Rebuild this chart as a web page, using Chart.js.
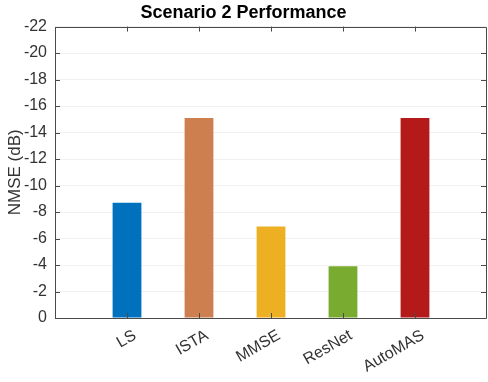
<!DOCTYPE html>
<html lang="en">
<head>
  <meta charset="UTF-8">
  <title>Scenario 2 Performance</title>
  <style>
    html, body { margin: 0; padding: 0; background: #ffffff; }
    .chartBox { width: 488px; height: 382px; }
  </style>
</head>
<body>
<div class="chartBox">
  <canvas id="myChart" width="488" height="382"></canvas>
</div>
<script src="https://cdn.jsdelivr.net/npm/chart.js"></script>
<script>
  // data
  const methods = ['LS', 'ISTA', 'MMSE', 'ResNet', 'AutoMAS'];
  const nmseValues = [-8.7, -15.1, -6.9, -3.9, -15.1];
  const barColors = ['#0072BD', '#CD7F4F', '#ECB022', '#78AB30', '#B41A1A'];
  const yTickValues = [-22, -20, -18, -16, -14, -12, -10, -8, -6, -4, -2, 0];

  // matlab leaves an empty slot on each side of the bars
  const labels = [''].concat(methods, ['']);
  const values = [null].concat(nmseValues, [null]);
  const colors = ['#ffffff'].concat(barColors, ['#ffffff']);

  const axisColor = '#4a4a4a';
  const textColor = '#333333';
  const fontFamily = '"Liberation Sans", Arial, Helvetica, sans-serif';

  // box around the axes + inward ticks, like matlab
  const boxPlugin = {
    id: 'boxPlugin',
    afterDraw(chart) {
      const c = chart.ctx;
      const a = chart.chartArea;
      const xs = chart.scales.x;
      const ys = chart.scales.y;
      const len = 5;
      c.save();
      c.strokeStyle = axisColor;
      c.lineWidth = 1;
      c.beginPath();
      c.rect(Math.round(a.left) + 0.5, Math.round(a.top) + 0.5,
             Math.round(a.right - a.left) - 1, Math.round(a.bottom - a.top));
      c.stroke();

      c.beginPath();
      ys.ticks.forEach((t, i) => {
        const y = Math.round(ys.getPixelForTick(i)) + 0.5;
        c.moveTo(a.left, y); c.lineTo(a.left + len, y);
        c.moveTo(a.right - 1, y); c.lineTo(a.right - 1 - len, y);
      });
      labels.forEach((l, i) => {
        if (l === '') return;
        const x = Math.round(xs.getPixelForValue(i)) + 0.5;
        c.moveTo(x, a.bottom); c.lineTo(x, a.bottom - len);
        c.moveTo(x, a.top); c.lineTo(x, a.top + len);
      });
      c.stroke();
      c.restore();
    }
  };

  const ctx = document.getElementById('myChart');

  const myChart = new Chart(ctx, {
    type: 'bar',
    data: {
      labels: labels,
      datasets: [{
        label: 'NMSE',
        data: values,
        backgroundColor: colors,
        borderWidth: 0,
        barPercentage: 0.4,
        categoryPercentage: 1.0
      }]
    },
    options: {
      responsive: false,
      maintainAspectRatio: false,
      animation: false,
      layout: {
        padding: { left: 0, right: 1, top: 0, bottom: 0 }
      },
      plugins: {
        legend: { display: false },
        tooltip: { enabled: false },
        title: {
          display: true,
          text: 'Scenario 2 Performance',
          color: '#000000',
          font: { family: fontFamily, size: 18, weight: 'bold' },
          padding: { top: 2, bottom: 3 },
          align: 'center'
        }
      },
      scales: {
        x: {
          type: 'category',
          offset: false,
          grid: { display: false, drawTicks: false },
          border: { display: false },
          ticks: {
            color: textColor,
            font: { family: fontFamily, size: 16 },
            minRotation: 30,
            maxRotation: 30,
            autoSkip: false,
            padding: 8,
            labelOffset: 8
          },
          afterFit(scale) {
            scale.height = 64;
            // no extra room for the (empty) end labels
            scale.paddingLeft = 0;
            scale.paddingRight = 0;
          }
        },
        y: {
          reverse: true,
          min: -22,
          max: 0,
          afterBuildTicks(scale) {
            scale.ticks = yTickValues.map(v => ({ value: v }));
          },
          grid: { color: '#f2f2f2', drawTicks: false },
          border: { display: false },
          ticks: {
            color: textColor,
            font: { family: fontFamily, size: 16 },
            padding: 8
          },
          title: {
            display: true,
            text: 'NMSE (dB)',
            color: textColor,
            font: { family: fontFamily, size: 17 },
            padding: { top: 5, bottom: 0 }
          },
          afterFit(scale) { scale.width = 55; }
        }
      }
    },
    plugins: [boxPlugin]
  });
</script>
</body>
</html>
